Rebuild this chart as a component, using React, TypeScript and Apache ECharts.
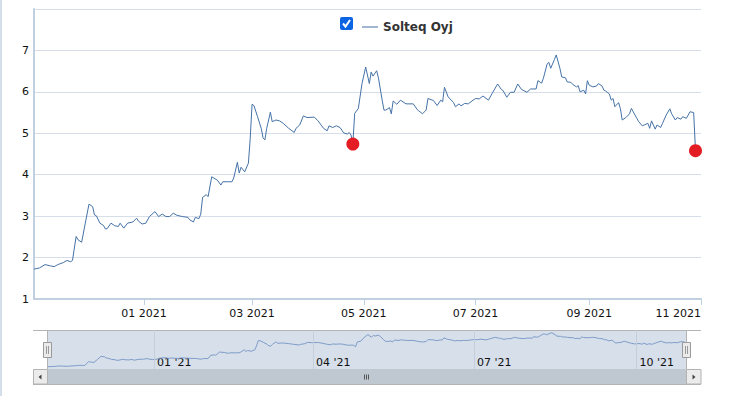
import React, { useEffect, useRef } from 'react';
import * as echarts from 'echarts';

const seriesName = 'Solteq Oyj';
const startDate = '2020-11-02';
const axisEndDate = '2021-11-01';
// days after startDate of each observation
const dayOffsets = [
  0, 3, 6, 9, 11, 13, 16, 18, 20, 21, 23, 24, 26, 28, 30, 32, 33, 34, 36, 38,
  39, 40, 42, 44, 46, 47, 49, 51, 54, 56, 57, 59, 61, 63, 66, 68, 70, 72, 74, 76,
  78, 81, 84, 85, 87, 88, 90, 91, 92, 94, 95, 97, 100, 102, 103, 106, 108, 109, 111, 112,
  113, 115, 117, 118, 119, 120, 122, 124, 125, 126, 127, 129, 130, 132, 134, 136, 138, 139, 142, 143,
  145, 147, 149, 153, 155, 157, 158, 160, 161, 163, 165, 167, 169, 171, 172, 173, 174, 175, 177, 179,
  181, 183, 184, 185, 187, 188, 190, 191, 192, 194, 195, 196, 198, 200, 203, 207, 209, 210, 212, 214,
  215, 218, 220, 222, 223, 224, 226, 229, 230, 232, 233, 235, 237, 239, 241, 243, 245, 248, 250, 253,
  255, 256, 258, 260, 262, 264, 266, 269, 271, 274, 275, 277, 278, 280, 281, 282, 284, 285, 287, 288,
  290, 291, 293, 294, 296, 297, 298, 300, 301, 302, 303, 305, 307, 308, 310, 311, 312, 314, 315, 316,
  317, 319, 320, 321, 323, 325, 326, 327, 329, 330, 332, 333, 335, 336, 337, 339, 340, 342, 343, 345,
  347, 348, 350, 351, 353, 354, 356, 357, 358, 360, 361,
];
const prices = [
  1.72, 1.75, 1.83, 1.8, 1.78, 1.83, 1.88, 1.93, 1.9, 1.93, 2.51, 2.43, 2.37, 2.83, 3.29, 3.23, 3.03, 3.01, 2.83, 2.77,
  2.69, 2.7, 2.83, 2.77, 2.75, 2.83, 2.71, 2.83, 2.86, 2.95, 2.88, 2.81, 2.83, 2.99, 3.11, 2.99, 3.05, 2.99, 2.99, 3.07,
  3.02, 2.99, 2.97, 2.91, 2.86, 2.97, 2.94, 3.05, 3.45, 3.52, 3.47, 3.95, 3.87, 3.75, 3.83, 3.83, 3.83, 3.92, 4.3, 4.04,
  4.18, 4.07, 4.28, 4.88, 5.7, 5.67, 5.4, 5.12, 4.89, 4.84, 5.12, 5.51, 5.28, 5.32, 5.3, 5.24, 5.16, 5.12, 5.02, 5.12,
  5.2, 5.42, 5.38, 5.39, 5.3, 5.18, 5.12, 5.06, 5.18, 5.14, 5.18, 5.14, 5.01, 4.98, 5.02, 4.96, 4.74, 5.48, 5.6, 6.2,
  6.6, 6.2, 6.48, 6.38, 6.51, 6.33, 5.8, 5.56, 5.56, 5.62, 5.47, 5.78, 5.7, 5.8, 5.71, 5.71, 5.58, 5.54, 5.47, 5.56,
  5.84, 5.79, 5.67, 5.8, 5.76, 6.11, 5.88, 5.74, 5.64, 5.71, 5.66, 5.72, 5.71, 5.78, 5.84, 5.83, 5.9, 5.8, 5.96, 6.19,
  6.06, 6.03, 5.87, 5.99, 5.99, 6.19, 6.06, 5.99, 6.07, 6.07, 6.27, 6.21, 6.33, 6.67, 6.71, 6.57, 6.78, 6.89, 6.57, 6.36,
  6.34, 6.24, 6.23, 6.18, 6.12, 6.15, 6.0, 6.04, 5.95, 6.27, 6.16, 6.12, 6.14, 6.2, 6.14, 6.04, 6.02, 5.95, 5.8, 5.84,
  5.64, 5.74, 5.6, 5.32, 5.38, 5.47, 5.6, 5.52, 5.36, 5.28, 5.18, 5.2, 5.24, 5.12, 5.3, 5.1, 5.2, 5.14, 5.24, 5.44,
  5.59, 5.47, 5.32, 5.38, 5.34, 5.4, 5.36, 5.44, 5.52, 5.5, 4.58,
];
// red signal markers
const signalDays = [174, 361];
const signalPrices = [4.74, 4.58];

const yMin = 1;
const yMax = 8;
const yStep = 1;
const mainTickDates = ['2021-01-01', '2021-03-01', '2021-05-01', '2021-07-01', '2021-09-01', '2021-11-01'];
const navTickDates = ['2021-01-01', '2021-04-01', '2021-07-01', '2021-10-01'];

const DAY = 86400000;
const ts = (s: string) => Date.parse(s + 'T00:00:00Z');
const pad2 = (n: number) => String(n).padStart(2, '0');

const FONT = 'DejaVu Sans, Verdana, sans-serif';

export default function App() {
  const ref = useRef<HTMLDivElement>(null);

  useEffect(() => {
    if (!ref.current) return;
    const chart = echarts.init(ref.current, undefined, { renderer: 'svg' });
    const t0 = ts(startDate);
    const lineData = dayOffsets.map((d, i) => [t0 + d * DAY, prices[i]]);
    const signalData = signalDays.map((d, i) => [t0 + d * DAY, signalPrices[i]]);
    const lastT = t0 + dayOffsets[dayOffsets.length - 1] * DAY;

    const grey = '#b3b3b3';
    const graphic: any[] = [
      { type: 'line', z: 0, shape: { x1: 1, y1: 0, x2: 1, y2: 396 }, style: { stroke: '#c5d3e2', lineWidth: 1.5 } },
      // navigator mask
      { type: 'rect', z: 0, shape: { x: 48, y: 330, width: 638, height: 39 }, style: { fill: '#d7dfea' } },
      { type: 'line', z: 5, shape: { x1: 33, y1: 330.5, x2: 701, y2: 330.5 }, style: { stroke: grey, lineWidth: 1 } },
      { type: 'line', z: 5, shape: { x1: 47.5, y1: 330, x2: 47.5, y2: 369 }, style: { stroke: grey, lineWidth: 1 } },
      { type: 'line', z: 5, shape: { x1: 686.5, y1: 330, x2: 686.5, y2: 369 }, style: { stroke: grey, lineWidth: 1 } },
      // scrollbar
      { type: 'rect', z: 5, shape: { x: 48, y: 369, width: 638, height: 15 }, style: { fill: '#bfc7d1' } },
      { type: 'rect', z: 6, shape: { x: 33.5, y: 369.5, width: 14, height: 14.5 }, style: { fill: '#ebebeb', stroke: grey, lineWidth: 1 } },
      { type: 'polygon', z: 7, shape: { points: [[38.5, 377], [41.5, 374.5], [41.5, 379.5]] }, style: { fill: '#444' } },
      { type: 'rect', z: 6, shape: { x: 686.5, y: 369.5, width: 14.5, height: 14.5 }, style: { fill: '#ebebeb', stroke: grey, lineWidth: 1 } },
      { type: 'polygon', z: 7, shape: { points: [[695.5, 377], [692.5, 374.5], [692.5, 379.5]] }, style: { fill: '#444' } },
      { type: 'line', z: 6, shape: { x1: 33, y1: 384.5, x2: 701, y2: 384.5 }, style: { stroke: grey, lineWidth: 1 } },
      { type: 'line', z: 7, shape: { x1: 364.5, y1: 374.5, x2: 364.5, y2: 379.5 }, style: { stroke: '#555', lineWidth: 1 } },
      { type: 'line', z: 7, shape: { x1: 366.5, y1: 374.5, x2: 366.5, y2: 379.5 }, style: { stroke: '#555', lineWidth: 1 } },
      { type: 'line', z: 7, shape: { x1: 368.5, y1: 374.5, x2: 368.5, y2: 379.5 }, style: { stroke: '#555', lineWidth: 1 } },
      // handles
      { type: 'rect', z: 10, shape: { x: 43.5, y: 342.5, width: 8, height: 15 }, style: { fill: '#ebebeb', stroke: '#9a9a9a', lineWidth: 1 } },
      { type: 'line', z: 11, shape: { x1: 46.5, y1: 346, x2: 46.5, y2: 354 }, style: { stroke: '#9a9a9a', lineWidth: 1 } },
      { type: 'line', z: 11, shape: { x1: 48.5, y1: 346, x2: 48.5, y2: 354 }, style: { stroke: '#9a9a9a', lineWidth: 1 } },
      { type: 'rect', z: 10, shape: { x: 682.5, y: 342.5, width: 8, height: 15 }, style: { fill: '#ebebeb', stroke: '#9a9a9a', lineWidth: 1 } },
      { type: 'line', z: 11, shape: { x1: 685.5, y1: 346, x2: 685.5, y2: 354 }, style: { stroke: '#9a9a9a', lineWidth: 1 } },
      { type: 'line', z: 11, shape: { x1: 687.5, y1: 346, x2: 687.5, y2: 354 }, style: { stroke: '#9a9a9a', lineWidth: 1 } },
      // legend checkbox
      { type: 'rect', z: 10, shape: { x: 340, y: 17, width: 13, height: 13, r: 2 }, style: { fill: '#0b65e3' } },
      { type: 'polyline', z: 11, shape: { points: [[343, 23.5], [345.5, 26.5], [350, 20]] }, style: { stroke: '#fff', lineWidth: 2, fill: null } },
    ];

    const mainLabel = (v: number) => {
      const d = new Date(v);
      return pad2(d.getUTCMonth() + 1) + ' ' + d.getUTCFullYear();
    };
    const navLabel = (v: number) => {
      const d = new Date(v);
      return pad2(d.getUTCMonth() + 1) + " '" + String(d.getUTCFullYear()).slice(2);
    };

    const option: any = {
      animation: false,
      backgroundColor: '#fff',
      textStyle: { fontFamily: FONT },
      legend: {
        show: true,
        left: 357,
        top: 16,
        itemWidth: 16,
        itemHeight: 2,
        itemGap: 10,
        data: [
          {
            name: seriesName,
            icon: 'rect',
            itemStyle: { color: '#a3b6d0' },
            lineStyle: { color: '#a3b6d0', width: 2 },
          },
        ],
        lineStyle: { color: '#a3b6d0', width: 2 },
        textStyle: { fontFamily: FONT, fontSize: 12, fontWeight: 'bold', color: '#333' },
        selectedMode: false,
      },
      graphic,
      grid: [
        { left: 34, right: 42, top: 9, bottom: 97, containLabel: false },
        { left: 48, right: 57, top: 330, bottom: 27, containLabel: false },
      ],
      xAxis: [
        {
          type: 'value',
          gridIndex: 0,
          min: t0,
          max: ts(axisEndDate),
          scale: true,
          axisLine: { show: true, lineStyle: { color: '#c0d0e0', width: 2 } },
          axisTick: { show: true, length: 6, lineStyle: { color: '#c0d0e0', width: 1 }, customValues: mainTickDates.map(ts) },
          splitLine: { show: false },
          axisLabel: {
            customValues: mainTickDates.map(ts),
            color: '#111',
            fontFamily: FONT,
            fontSize: 11,
            margin: 9,
            hideOverlap: false,
            alignMaxLabel: 'right',
            formatter: mainLabel,
          },
        },
        {
          type: 'value',
          gridIndex: 1,
          min: t0,
          max: lastT,
          scale: true,
          axisLine: { show: false },
          axisTick: { show: false },
          splitLine: { show: false },
          axisLabel: {
            customValues: navTickDates.map(ts),
            inside: true,
            align: 'left',
            padding: [0, 0, 0, 3],
            margin: 1,
            color: '#111',
            fontFamily: FONT,
            fontSize: 11,
            hideOverlap: false,
            formatter: navLabel,
          },
        },
      ],
      yAxis: [
        {
          type: 'value',
          gridIndex: 0,
          min: yMin,
          max: yMax,
          interval: yStep,
          axisLine: { show: true, lineStyle: { color: '#c0d0e0', width: 2 } },
          axisTick: { show: false },
          splitLine: { show: true, lineStyle: { color: '#d6dfe9', width: 1 } },
          axisLabel: { color: '#111', fontFamily: FONT, fontSize: 11, margin: 5, showMaxLabel: false },
        },
        {
          type: 'value',
          gridIndex: 1,
          min: 1.37,
          max: 7.3,
          axisLine: { show: false },
          axisTick: { show: false },
          splitLine: { show: false },
          axisLabel: { show: false },
        },
      ],
      series: [
        {
          name: seriesName,
          type: 'line',
          xAxisIndex: 0,
          yAxisIndex: 0,
          data: lineData,
          showSymbol: false,
          symbol: 'none',
          lineStyle: { color: '#4572a7', width: 1 },
          itemStyle: { color: '#4572a7' },
          z: 3,
        },
        {
          name: 'signals',
          type: 'scatter',
          xAxisIndex: 0,
          yAxisIndex: 0,
          data: signalData,
          symbol: 'circle',
          symbolSize: 13,
          itemStyle: { color: '#e41d24', opacity: 1 },
          z: 5,
        },
        {
          name: 'navigator',
          type: 'line',
          xAxisIndex: 1,
          yAxisIndex: 1,
          data: lineData,
          showSymbol: false,
          symbol: 'none',
          lineStyle: { color: '#7e9cc8', width: 1 },
          z: 3,
          markLine: {
            silent: true,
            symbol: 'none',
            label: { show: false },
            lineStyle: { color: '#c5cfdc', type: 'solid', width: 1 },
            data: navTickDates.map((s) => ({ xAxis: ts(s) })),
          },
        },
      ],
    };
    chart.setOption(option);
    return () => chart.dispose();
  }, []);

  return <div ref={ref} style={{ width: 743, height: 396, position: 'absolute', left: 0, top: 0 }} />;
}
